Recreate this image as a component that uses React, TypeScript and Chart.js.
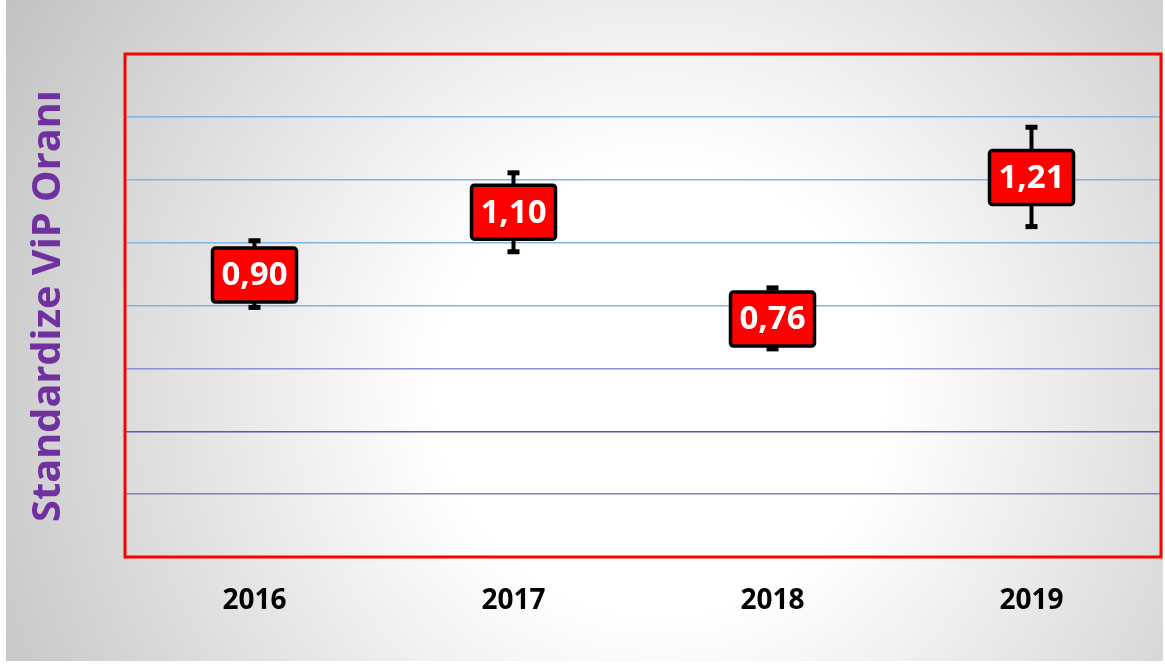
import React, { useEffect, useRef } from "react";
import { Chart, registerables } from "chart.js";

Chart.register(...registerables);

const categories = ["2016", "2017", "2018", "2019"];
const values = [0.9, 1.1, 0.76, 1.21];
const errHigh = [1.006, 1.222, 0.856, 1.367];
const errLow = [0.794, 0.971, 0.662, 1.051];
const valueLabels = ["0,90", "1,10", "0,76", "1,21"];
const yTitle = "Standardize ViP Oranı";

const gridColors: Record<string, string> = {
  "0.2": "#9474c4",
  "0.4": "#6a50ae",
  "0.6": "#8c8fd6",
  "0.8": "#86b2e2",
  "1": "#86b2e2",
  "1.2": "#86b2e2",
  "1.4": "#86b2e2",
};

const W = 1165;
const H = 664;

const decorPlugin = {
  id: "decor",
  beforeDraw(chart: any) {
    const ctx = chart.ctx;
    ctx.save();
    ctx.fillStyle = "#ffffff";
    ctx.fillRect(0, 0, W, H);
    const g = ctx.createRadialGradient(660, 390, 0, 660, 390, 760);
    g.addColorStop(0, "#ffffff");
    g.addColorStop(0.3, "#ffffff");
    g.addColorStop(1, "#c2c2c2");
    ctx.fillStyle = g;
    ctx.fillRect(6, 0, W - 8, H - 3);

    // y title
    ctx.fillStyle = "#7030a0";
    let size = 40;
    ctx.font = `bold ${size}px "Open Sans"`;
    const w = ctx.measureText(yTitle).width;
    size = (size * 432) / w;
    ctx.font = `bold ${size}px "Open Sans"`;
    ctx.translate(60, 306);
    ctx.rotate(-Math.PI / 2);
    ctx.textAlign = "center";
    ctx.textBaseline = "alphabetic";
    ctx.fillText(yTitle, 0, 0);
    ctx.restore();
  },
  afterDatasetsDraw(chart: any) {
    const ctx = chart.ctx;
    const xs = chart.scales.x;
    const ys = chart.scales.y;
    const area = chart.chartArea;
    ctx.save();
    // border
    ctx.strokeStyle = "#ff0000";
    ctx.lineWidth = 3;
    ctx.strokeRect(area.left, area.top, area.right - area.left, area.bottom - area.top);

    for (let i = 0; i < categories.length; i++) {
      const x = xs.getPixelForValue(i);
      const yv = ys.getPixelForValue(values[i]);
      const yh = ys.getPixelForValue(errHigh[i]);
      const yl = ys.getPixelForValue(errLow[i]);
      ctx.strokeStyle = "#000";
      ctx.lineWidth = 4;
      ctx.beginPath();
      ctx.moveTo(x, yh);
      ctx.lineTo(x, yl);
      ctx.stroke();
      ctx.fillStyle = "#000";
      ctx.fillRect(x - 6, yh - 2.5, 12, 5);
      ctx.fillRect(x - 6, yl - 2.5, 12, 5);

      const bw = 84;
      const bh = 54;
      ctx.beginPath();
      (ctx as any).roundRect(x - bw / 2, yv - bh / 2 + 1, bw, bh, 3);
      ctx.fillStyle = "#ff0000";
      ctx.fill();
      ctx.lineWidth = 3.5;
      ctx.strokeStyle = "#000";
      ctx.stroke();

      ctx.fillStyle = "#ffffff";
      ctx.font = 'bold 33px "Open Sans"';
      ctx.textAlign = "center";
      ctx.textBaseline = "middle";
      ctx.fillText(valueLabels[i], x, yv + 2);
    }
    ctx.restore();
  },
};

export default function App() {
  const ref = useRef<HTMLCanvasElement | null>(null);
  useEffect(() => {
    document.body.style.margin = "0";
    const canvas = ref.current!;
    const chart = new Chart(canvas, {
      type: "line",
      data: {
        labels: categories,
        datasets: [
          {
            data: values,
            showLine: false,
            pointRadius: 0,
            borderColor: "transparent",
            backgroundColor: "transparent",
          },
        ],
      },
      options: {
        animation: false,
        responsive: false,
        devicePixelRatio: 1,
        layout: { padding: { left: 125, right: 4, top: 54, bottom: 0 } },
        plugins: { legend: { display: false }, tooltip: { enabled: false } },
        scales: {
          x: {
            offset: true,
            grid: { display: false, drawTicks: false },
            border: { display: false },
            ticks: {
              color: "#000",
              font: { family: "Open Sans", weight: "bold", size: 28 },
              padding: 27,
            },
            afterFit(scale: any) {
              scale.height = 107;
            },
          },
          y: {
            min: 0,
            max: 1.6,
            ticks: { display: false, stepSize: 0.2 },
            border: { display: false },
            grid: {
              drawTicks: false,
              lineWidth: 1.5,
              color: (c: any) => {
                const v = Math.round(c.tick.value * 10) / 10;
                return gridColors[String(v)] || "transparent";
              },
            },
            afterFit(scale: any) {
              scale.width = 0;
            },
          },
        },
      },
      plugins: [decorPlugin],
    });
    return () => chart.destroy();
  }, []);
  return <canvas ref={ref} width={W} height={H} style={{ display: "block" }} />;
}
